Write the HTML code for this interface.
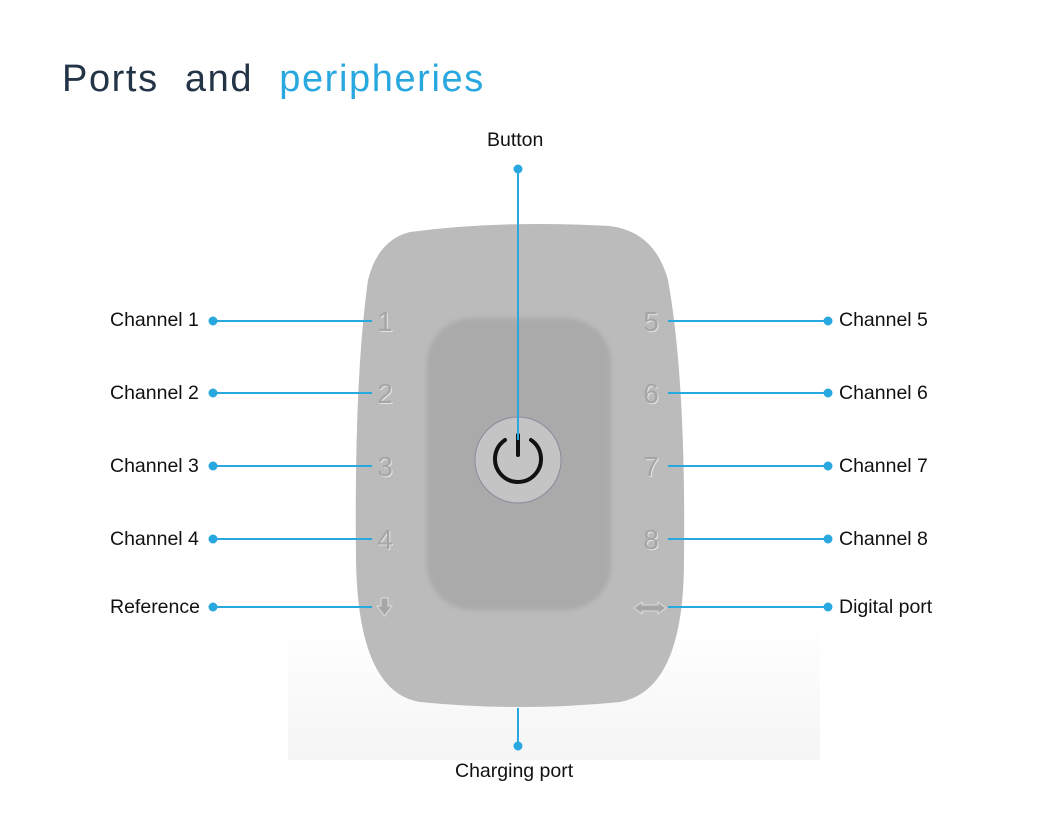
<!DOCTYPE html>
<html><head><style>
body{margin:0;width:1042px;height:834px;background:#fff;position:relative;overflow:hidden;font-family:"Liberation Sans",sans-serif}
.t{position:absolute;font-size:19.5px;color:#111;line-height:20px}
.title{position:absolute;left:62px;top:58px;font-size:38px;color:#243447;letter-spacing:1.6px;word-spacing:14px;font-weight:300}
</style></head><body>
<div class="title">Ports and <span style="color:#29a8e0">peripheries</span></div>
<svg width="1042" height="834" style="position:absolute;left:0;top:0">
<defs>
<linearGradient id="bg" x1="0" y1="0" x2="0" y2="1"><stop offset="0" stop-color="#fff"/><stop offset="1" stop-color="#f5f5f5"/></linearGradient>
<filter id="b"><feGaussianBlur stdDeviation="2.5"/></filter>
</defs>
<rect x="288" y="620" width="532" height="140" fill="url(#bg)"/>
<path d="M410 232 Q500 220 610 226 Q655 232 668 280 Q686 380 684 560 Q684 690 620 702 Q520 712 420 702 Q358 692 356 560 Q354 380 368 280 Q378 240 410 232 Z" fill="#bbbbbb"/>
<rect x="427" y="318" width="184" height="292" rx="45" fill="#aaaaaa" filter="url(#b)"/>
<circle cx="518" cy="460" r="43" fill="#c4c4c4" stroke="#8a8a9a" stroke-width="1"/>
<path d="M505 440 A23 23 0 1 0 531 440" fill="none" stroke="#111" stroke-width="4" stroke-linecap="round"/>
<line x1="518" y1="435" x2="518" y2="455" stroke="#111" stroke-width="4" stroke-linecap="round"/>
<g font-family="Liberation Sans" font-size="28" text-anchor="middle">
<g fill="#e2e2e2" transform="translate(1,1)">
<text x="385" y="331">1</text><text x="385" y="403">2</text><text x="385" y="476">3</text><text x="385" y="549">4</text>
<text x="651" y="331">5</text><text x="651" y="403">6</text><text x="651" y="476">7</text><text x="651" y="549">8</text></g>
<g fill="#a6a6a6">
<text x="385" y="331">1</text><text x="385" y="403">2</text><text x="385" y="476">3</text><text x="385" y="549">4</text>
<text x="651" y="331">5</text><text x="651" y="403">6</text><text x="651" y="476">7</text><text x="651" y="549">8</text></g>
</g>
<path d="M381 598 h7 v8 h4 l-7.5 10 l-7.5 -10 h4 z" fill="#a6a6a6" stroke="#dcdcdc" stroke-width="1"/>
<path d="M634 608 l8 -6 v3 h16 v-3 l8 6 l-8 6 v-3 h-16 v3 z" fill="#a6a6a6" stroke="#dcdcdc" stroke-width="1"/>
<g stroke="#29a8e0" stroke-width="2" fill="#29a8e0">
<line x1="213" y1="321" x2="372" y2="321"/><circle cx="213" cy="321" r="3.5"/>
<line x1="213" y1="393" x2="372" y2="393"/><circle cx="213" cy="393" r="3.5"/>
<line x1="213" y1="466" x2="372" y2="466"/><circle cx="213" cy="466" r="3.5"/>
<line x1="213" y1="539" x2="372" y2="539"/><circle cx="213" cy="539" r="3.5"/>
<line x1="213" y1="607" x2="372" y2="607"/><circle cx="213" cy="607" r="3.5"/>
<line x1="668" y1="321" x2="828" y2="321"/><circle cx="828" cy="321" r="3.5"/>
<line x1="668" y1="393" x2="828" y2="393"/><circle cx="828" cy="393" r="3.5"/>
<line x1="668" y1="466" x2="828" y2="466"/><circle cx="828" cy="466" r="3.5"/>
<line x1="668" y1="539" x2="828" y2="539"/><circle cx="828" cy="539" r="3.5"/>
<line x1="668" y1="607" x2="828" y2="607"/><circle cx="828" cy="607" r="3.5"/>
<line x1="518" y1="169" x2="518" y2="440"/><circle cx="518" cy="169" r="3.5"/>
<line x1="518" y1="708" x2="518" y2="746"/><circle cx="518" cy="746" r="3.5"/>
</g>
</svg>
<div class="t" style="left:110px;top:310px">Channel 1</div>
<div class="t" style="left:110px;top:383px">Channel 2</div>
<div class="t" style="left:110px;top:456px">Channel 3</div>
<div class="t" style="left:110px;top:529px">Channel 4</div>
<div class="t" style="left:110px;top:597px">Reference</div>
<div class="t" style="left:839px;top:310px">Channel 5</div>
<div class="t" style="left:839px;top:383px">Channel 6</div>
<div class="t" style="left:839px;top:456px">Channel 7</div>
<div class="t" style="left:839px;top:529px">Channel 8</div>
<div class="t" style="left:839px;top:597px">Digital port</div>
<div class="t" style="left:487px;top:130px">Button</div>
<div class="t" style="left:455px;top:761px">Charging port</div>
</body></html>
